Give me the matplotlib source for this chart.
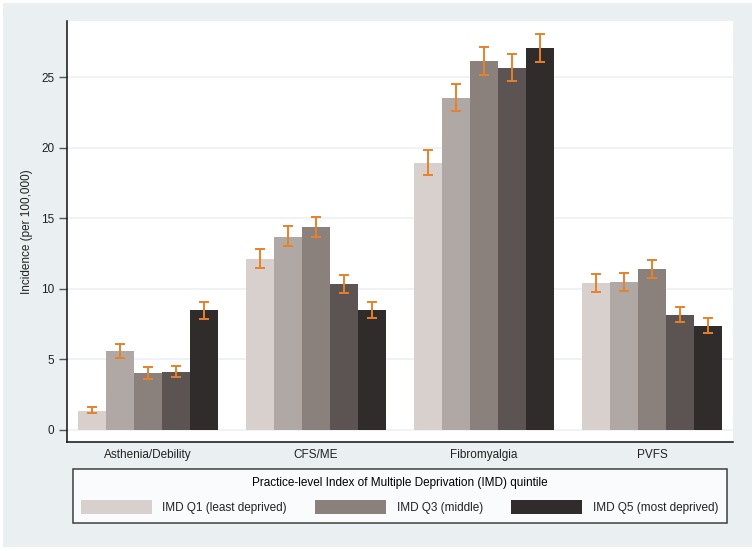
import matplotlib
matplotlib.use("Agg")
import matplotlib.pyplot as plt
import numpy as np
from matplotlib.patches import Rectangle, Patch

plt.rcParams['font.family'] = ['Liberation Sans', 'DejaVu Sans']

categories = ["Asthenia/Debility", "CFS/ME", "Fibromyalgia", "PVFS"]
quintiles = ["IMD Q1 (least deprived)", "IMD Q2", "IMD Q3 (middle)", "IMD Q4", "IMD Q5 (most deprived)"]

# incidence per 100,000 by quintile (rows) and category (columns)
q1 = [1.38, 12.12, 18.94, 10.43]
q2 = [5.60, 13.70, 23.54, 10.48]
q3 = [4.04, 14.35, 26.13, 11.37]
q4 = [4.14, 10.34, 25.64, 8.17]
q5 = [8.48, 8.48, 27.07, 7.37]

q1_lo = [1.17, 11.44, 18.09, 9.77]
q1_hi = [1.66, 12.82, 19.82, 11.07]
q2_lo = [5.08, 13.00, 22.62, 9.84]
q2_hi = [6.07, 14.42, 24.48, 11.12]
q3_lo = [3.64, 13.68, 25.16, 10.74]
q3_hi = [4.47, 15.08, 27.12, 12.02]
q4_lo = [3.73, 9.72, 24.72, 7.65]
q4_hi = [4.56, 10.95, 26.60, 8.73]
q5_lo = [7.89, 7.93, 26.06, 6.85]
q5_hi = [9.04, 9.07, 28.06, 7.91]

values = [q1, q2, q3, q4, q5]
lows = [q1_lo, q2_lo, q3_lo, q4_lo, q5_lo]
highs = [q1_hi, q2_hi, q3_hi, q4_hi, q5_hi]
colors = ["#d7d0cd", "#b0a8a4", "#8a807c", "#5c5452", "#302c2b"]
err_color = "#e8802a"

yticks = [0, 5, 10, 15, 20, 25]

W, H = 755, 551
fig = plt.figure(figsize=(W / 100, H / 100), dpi=100)
fig.patch.set_facecolor("white")
fig.patches.append(Rectangle((3 / W, 1 - 547 / H), (752 - 3) / W, (547 - 3) / H,
                             transform=fig.transFigure, facecolor="#eaeff2",
                             edgecolor="none", zorder=-10))

ax = fig.add_axes([67 / W, 1 - 442 / H, (733 - 67) / W, (442 - 21) / H])
ax.set_facecolor("white")

group_centers = np.arange(len(categories)) * 6.0
offsets = np.arange(-2, 3)
for i in range(5):
    x = group_centers + offsets[i]
    v = np.array(values[i])
    lo = np.array(lows[i])
    hi = np.array(highs[i])
    ax.bar(x, v, width=1.0, color=colors[i], edgecolor="none", zorder=2)
    ax.errorbar(x, v, yerr=[v - lo, hi - v], fmt="none", ecolor=err_color,
                elinewidth=1.4, capsize=3.5, capthick=1.4, zorder=3)

ax.set_xlim(-2.89, 18 + 2.89)
ax.set_ylim(-0.85, 28.97)
ax.set_yticks(yticks)
ax.set_yticklabels([str(t) for t in yticks], fontsize=8.5, color="#222222")
ax.set_xticks(group_centers)
ax.set_xticklabels(categories, fontsize=8.5, color="#222222")
ax.tick_params(axis="x", length=0, pad=5)
ax.tick_params(axis="y", length=6, width=1.0, color="#555555", pad=3)
ax.yaxis.grid(True, color="#eef1f3", linewidth=1.2, zorder=0)
ax.set_axisbelow(True)
for s in ["top", "right"]:
    ax.spines[s].set_visible(False)
for s in ["left", "bottom"]:
    ax.spines[s].set_color("#111111")
    ax.spines[s].set_linewidth(1.1)

ax.set_ylabel("Incidence (per 100,000)", fontsize=8.5, color="#222222", labelpad=6)

handles = [Patch(facecolor=colors[i], edgecolor="none", label=quintiles[i]) for i in (0, 2, 4)]
leg = fig.legend(handles=handles, loc="lower left",
                 bbox_to_anchor=(72.7 / W, 1 - 522.7 / H, (726.7 - 72.7) / W, (522.7 - 469) / H),
                 mode="expand", ncol=3, frameon=True, fancybox=False,
                 title="Practice-level Index of Multiple Deprivation (IMD) quintile",
                 fontsize=8.5, title_fontsize=8.5, handlelength=6.0, handleheight=1.55,
                 handletextpad=0.9, borderaxespad=0, borderpad=0.7, labelspacing=0.9)
leg.get_frame().set_edgecolor("#111111")
leg.get_frame().set_linewidth(1.1)
leg.get_frame().set_facecolor("white")
for t in leg.get_texts():
    t.set_color("#222222")

fig.savefig("out.png", dpi=100, facecolor=fig.get_facecolor())
